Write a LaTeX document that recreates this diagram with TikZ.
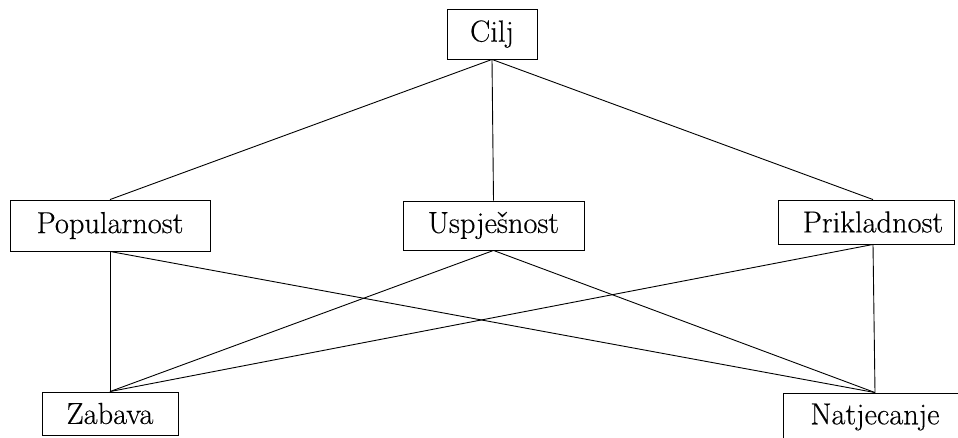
\documentclass[tikz,border=0pt]{standalone}
\usepackage{fontspec}
\setmainfont{Latin Modern Roman}[FakeBold=0.35]
\begin{document}
\begin{tikzpicture}[x=1pt,y=-1pt,
  box/.style={draw,line width=0.9pt,inner sep=0pt,minimum height=48pt,
    font=\fontsize{30.4}{36}\selectfont},
  plain/.style={inner sep=0pt,font=\fontsize{30.4}{36}\selectfont},
  link/.style={line width=0.9pt}]
\useasboundingbox (0,0) rectangle (958,437);
\clip (0,0) rectangle (958,437);
\fill[white] (0,0) rectangle (958,437);
\node[box,minimum width=90pt,minimum height=50pt] (cilj) at (492,34) {Cilj};
\node[box,minimum width=200pt,minimum height=51pt] (pop) at (110,225.5) {Popularnost};
\node[box,minimum width=181pt,minimum height=49pt] (usp) at (493.5,225.5) {Uspješnost};
\node[box,minimum width=176pt,minimum height=44pt] (prikbox) at (866,222) {};
\node[plain] (prik) at (873,222) {Prikladnost};
\coordinate (priktop) at (prik.center |- prikbox.north);
\coordinate (prikbot) at (prik.center |- prikbox.south);
\node[box,minimum width=136pt,minimum height=43pt] (zab) at (110,413.5) {Zabava};
\node[box,minimum width=184pt,minimum height=48pt] (nat) at (875,417) {Natjecanje};
\draw[link] (cilj.south) -- (pop.north);
\draw[link] (cilj.south) -- (usp.north);
\draw[link] (cilj.south) -- (priktop);
\draw[link] (pop.south) -- (zab.north);
\draw[link] (pop.south) -- (nat.north);
\draw[link] (usp.south) -- (zab.north);
\draw[link] (usp.south) -- (nat.north);
\draw[link] (prikbot) -- (zab.north);
\draw[link] (prikbot) -- (nat.north);
\end{tikzpicture}
\end{document}
